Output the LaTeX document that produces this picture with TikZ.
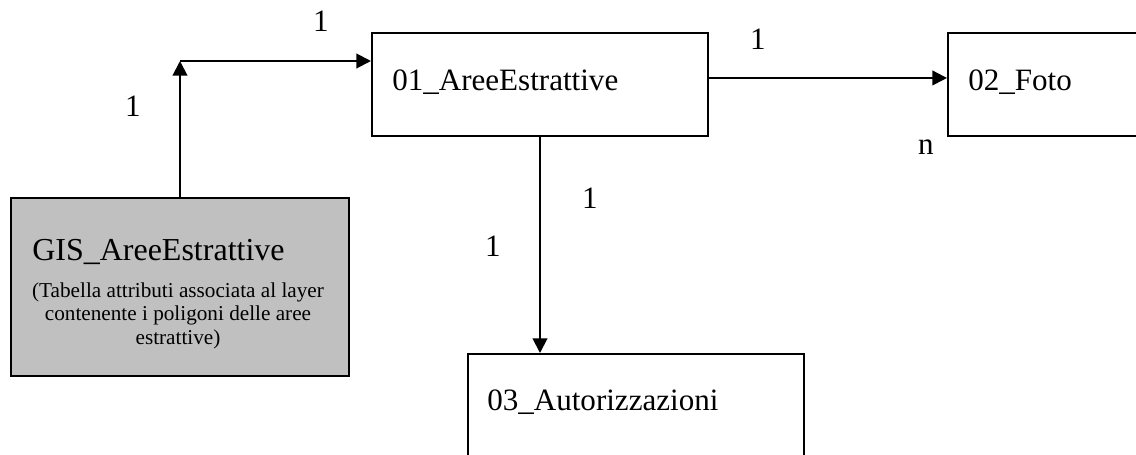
\documentclass[tikz,border=0pt]{standalone}
\usepackage{fontspec}
\setmainfont{Liberation Serif}
\usetikzlibrary{arrows.meta,calc}
\definecolor{tablegray}{HTML}{C0C0C0}
\tikzset{
  entity/.style={draw=black, line width=1.5pt, rectangle, inner sep=0pt, anchor=north west},
  title/.style={anchor=base west, inner sep=0pt, font=\fontsize{23.3pt}{28pt}\selectfont},
  card/.style={anchor=base, inner sep=0pt, font=\fontsize{23.3pt}{28pt}\selectfont},
  link/.style={line width=1.5pt, -{Triangle[length=11pt,width=11pt]}},
}
\begin{document}
\begin{tikzpicture}[x=0.75pt, y=-0.75pt]
\useasboundingbox (0,0) rectangle (1136,454);

% entity boxes
\node[entity, fill=tablegray, minimum width=253.5pt, minimum height=133.5pt] (gis) at (10,197) {};
\node[entity, minimum width=252pt, minimum height=77.25pt] (aree) at (371,32) {};
\node[entity, minimum width=252pt, minimum height=77.25pt] (foto) at (947,32) {};
\node[entity, minimum width=252pt, minimum height=77.25pt] (aut) at (467,353) {};

% box titles
\node[title, font=\fontsize{24pt}{28pt}\selectfont] (tgis) at (32,260) {GIS\_AreeEstrattive};
\node[title] (taree) at (392,90) {01\_AreeEstrattive};
\node[title] (tfoto) at (968,90) {02\_Foto};
\node[title] (taut) at (487,410) {03\_Autorizzazioni};
% description under the layer title (anchored on its last line)
\node[anchor=base, inner sep=0pt, align=center,
      font=\fontsize{15.9pt}{17.6pt}\selectfont] (desc) at (178,344)
  {(Tabella attributi associata al layer\\contenente i poligoni delle aree\\estrattive)};

% connectors
\coordinate (bend) at (gis.north |- 0,61);
\draw[link] (gis.north) -- (bend);
\draw[link] (bend) -- (bend -| aree.west);
\draw[link] ([yshift=4.9pt]aree.east) -- ([yshift=4.9pt]foto.west);
\draw[link] (aree.south) -- (aree.south |- aut.north);

% cardinalities
\node[card] (c1) at (321,31) {1};
\node[card] (c2) at (133,116) {1};
\node[card] (c3) at (758,49) {1};
\node[card] (c4) at (926,154) {n};
\node[card] (c5) at (590,208) {1};
\node[card] (c6) at (493,256) {1};
\end{tikzpicture}
\end{document}
